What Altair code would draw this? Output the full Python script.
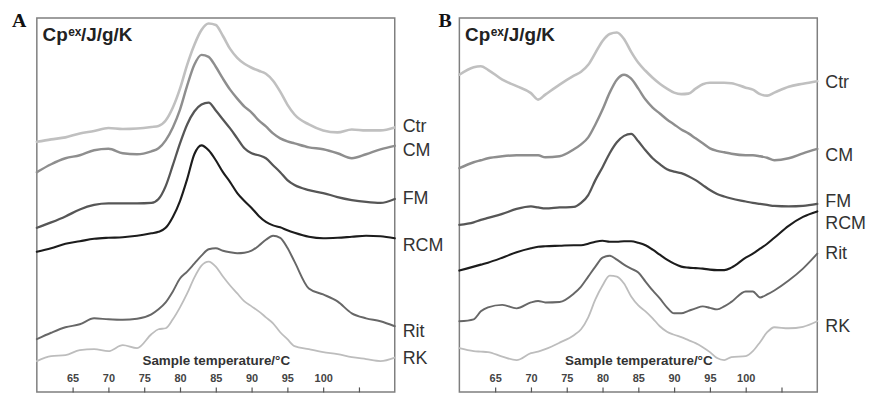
import altair as alt
import pandas as pd

# ---------------- data (Cp^ex, stacked curves, arbitrary units) ----------------
SERIES = ["Ctr", "CM", "FM", "RCM", "Rit", "RK"]

T_A = [60, 62, 64, 66, 68, 70, 72, 74, 76, 77, 78, 79, 80, 81, 82, 83, 84, 85, 86, 87,
       88, 89, 90, 91, 92, 93, 94, 95, 96, 98, 100, 102, 104, 106, 108, 110]

A_Ctr = [251.5, 254, 256, 260, 262.5, 265.5, 264.5, 265, 266.5,
         267.5, 273, 286, 305, 329, 349, 364, 370.5, 369, 358, 345, 336, 330, 326, 323, 320, 313, 302, 289, 279,
         269, 263, 261, 264, 263, 263, 266]
A_CM = [221, 229, 235, 238, 243, 244.5, 240, 239, 242,
        245, 253, 266, 284, 308, 329, 339, 337, 327, 315, 304, 295, 287, 281, 273, 267, 260, 255, 252, 250,
        246, 244, 240, 235, 239, 244, 247.5]
A_FM = [165, 170.5, 176.5, 183.5, 188, 189.5, 189.5, 189.5, 190,
        194, 207, 228, 250, 269, 282, 289, 291, 283, 274, 265, 255, 245, 240, 238, 235, 228, 221, 213, 208,
        203, 200, 196, 193, 191, 190, 194]
A_RCM = [141, 144.5, 149, 151.5, 154, 155, 155.5, 157, 159.5,
         161, 165, 176, 192, 214, 239, 248, 243, 233, 221, 211, 200, 192, 185, 177, 171, 167.5, 165.5, 162.5, 160,
         156, 154.5, 155, 156, 157, 156.5, 154.5]
A_Rit = [53, 59.5, 65, 68, 74, 73, 72.5, 73.5, 78,
         83, 90, 101, 114, 121, 129, 137, 143.5, 144.5, 142, 140.5, 139.5, 140, 142, 147, 153, 157, 155, 145, 131,
         104, 98, 91, 79, 74, 71, 66]
A_RK = [31, 36, 37, 42, 43, 41, 47, 44, 58,
        63, 64, 73, 85, 99, 115, 127, 131, 126, 116, 107, 99, 91, 86, 81, 75, 69, 60, 53, 46,
        43, 40, 38, 35, 33, 31, 34.5]

T_B = [60, 62, 63, 64, 66, 68, 70, 71, 72, 74, 76, 77, 78, 79, 80, 81, 82, 83, 84, 85, 86,
       87, 88, 89, 90, 91, 92, 93, 94, 95, 96, 97, 98, 100, 101, 102, 103, 104, 106, 108, 110]

B_Ctr = [319, 326.5, 327.5, 324, 314, 307.5, 300.5, 294, 299, 309, 318,
         322, 329, 341, 353, 360, 361.5, 355, 342, 331, 323, 316, 310, 305, 301, 299.5, 300, 305, 309.5, 311, 311, 311, 310.5,
         306, 304, 299.5, 298, 301, 307, 310, 312.5]
B_CM = [225, 231, 233, 235, 237, 238, 238, 238, 236, 237, 244,
        249, 256, 269, 284, 301, 314, 319, 315, 305, 294, 286, 280, 274, 269, 264, 260, 255, 250, 245, 242.5, 241, 239.5,
        238, 238, 237, 235.5, 233, 235, 240, 244.5]
B_FM = [168, 170.5, 173, 175, 179, 184, 186.5, 185.5, 184.5, 185.5, 186,
        190, 198, 213, 226, 240, 251, 257.5, 259.5, 252, 243, 235, 229, 224, 221.5, 220, 217, 213, 208, 203, 199, 196.5, 194.5,
        191.5, 190, 189, 188, 187, 186.5, 187, 189]
B_RCM = [122, 126, 128, 130, 135, 140.5, 144.5, 146, 146.5, 147, 147.5,
         147.5, 149, 151, 152, 151, 151, 151.5, 151.5, 150, 147.5, 143, 138, 133, 129, 126, 125, 124.5, 124, 123, 122.5, 122.5, 125,
         135, 139, 144, 149, 155, 167, 176, 181.5]
B_Rit = [71, 73, 81, 85, 87.5, 84, 90, 91.5, 90, 90.5, 99,
         106, 116, 126, 135, 137, 133, 128, 124, 120, 111, 102, 94, 85, 79, 79, 81.5, 84, 86, 84.5, 83, 86, 90.5,
         101, 101, 95, 98, 102, 112, 124, 139]
B_RK = [44, 41, 40.5, 40, 35.5, 32, 39, 40.5, 43, 49.5, 57,
        63, 75, 93, 107, 117, 116, 109, 96, 87, 81, 74, 66, 60.5, 57.5, 55, 52, 49, 45, 40, 34, 32, 35,
        36, 41, 50, 60, 65, 64, 65.5, 71]

A_LABEL_Y = [266, 242, 194, 146.5, 60.5, 33.5]
B_LABEL_Y = [311, 237.5, 191, 168.5, 138.5, 65.5]

TICKS = [65, 70, 75, 80, 85, 90, 95, 100, 105]

# ---------------- styling ----------------
COLORS = ["#c0c0c0", "#8e8e8e", "#565656", "#1c1c1c", "#676767", "#bdbdbd"]
WIDTHS = [2.6, 1.8, 2.3, 2.0, 2.3, 2.3]
W, H = 360, 376
SANS = "Liberation Sans, Arial, Helvetica, sans-serif"
SERIF = "Liberation Serif, Times New Roman, serif"


def panel(T, curves, label_y, letter, letter_dx):
    df = pd.DataFrame([
        {"T": t, "Cp": v, "series": s}
        for s, vals in zip(SERIES, curves)
        for t, v in zip(T, vals)
    ])
    xs = alt.Scale(domain=[60, 110], nice=False, zero=False)
    ys = alt.Scale(domain=[0, 376], nice=False, zero=False)

    lines = alt.Chart(df).mark_line(interpolate="monotone", strokeJoin="round", strokeCap="round").encode(
        x=alt.X("T:Q", scale=xs, axis=alt.Axis(
            orient="top", offset=-H, values=TICKS,
            labelExpr="datum.value == 105 ? '' : datum.label",
            title="Sample temperature/°C", grid=False, domain=False,
            tickSize=5, tickColor="#555555", tickWidth=1.2,
            labelFont=SANS, labelFontSize=11, labelFontWeight="bold", labelColor="#444444",
            labelPadding=3, labelAngle=0,
            titleFont=SANS, titleFontSize=13.5, titleFontWeight="bold", titleColor="#333333",
            titlePadding=6)),
        y=alt.Y("Cp:Q", scale=ys, axis=None),
        color=alt.Color("series:N", scale=alt.Scale(domain=SERIES, range=COLORS), legend=None),
        strokeWidth=alt.StrokeWidth("series:N", scale=alt.Scale(domain=SERIES, range=WIDTHS), legend=None),
    )

    lab_df = pd.DataFrame({"series": SERIES, "ly": label_y})
    labels = alt.Chart(lab_df).mark_text(
        align="left", baseline="middle", font=SANS, fontSize=18, color="#333333"
    ).encode(
        x=alt.value(W + 8),
        y=alt.Y("ly:Q", scale=ys, axis=None),
        text="series:N",
    )

    let = alt.Chart(pd.DataFrame({"s": [letter]})).mark_text(
        align="left", baseline="alphabetic", font=SERIF, fontWeight="bold",
        fontSize=20, color="#111111"
    ).encode(x=alt.value(letter_dx), y=alt.value(8.5), text="s:N")

    cp1 = alt.Chart(pd.DataFrame({"s": ["Cp"]})).mark_text(
        align="left", baseline="alphabetic", font=SANS, fontWeight="bold", fontSize=19, color="#222222"
    ).encode(x=alt.value(5.7), y=alt.value(23.3), text="s:N")
    cp2 = alt.Chart(pd.DataFrame({"s": ["ex"]})).mark_text(
        align="left", baseline="alphabetic", font=SANS, fontWeight="bold", fontSize=12, color="#222222"
    ).encode(x=alt.value(31.5), y=alt.value(18.3), text="s:N")
    cp3 = alt.Chart(pd.DataFrame({"s": ["/J/g/K"]})).mark_text(
        align="left", baseline="alphabetic", font=SANS, fontWeight="bold", fontSize=19, color="#222222"
    ).encode(x=alt.value(44.5), y=alt.value(23.3), text="s:N")

    return alt.layer(lines, labels, let, cp1, cp2, cp3).properties(width=W, height=H)


pA = panel(T_A, [A_Ctr, A_CM, A_FM, A_RCM, A_Rit, A_RK], A_LABEL_Y, "A", -25)
pB = panel(T_B, [B_Ctr, B_CM, B_FM, B_RCM, B_Rit, B_RK], B_LABEL_Y, "B", -21)

chart = alt.hconcat(pA, pB, spacing=65, bounds="flush").configure_view(
    stroke="#7f7f7f", strokeWidth=1.5
).properties(padding={"left": 3, "top": 0, "right": 0, "bottom": 0}, background="white")

chart.save("out.html", embed_options={"renderer": "svg", "actions": False})
